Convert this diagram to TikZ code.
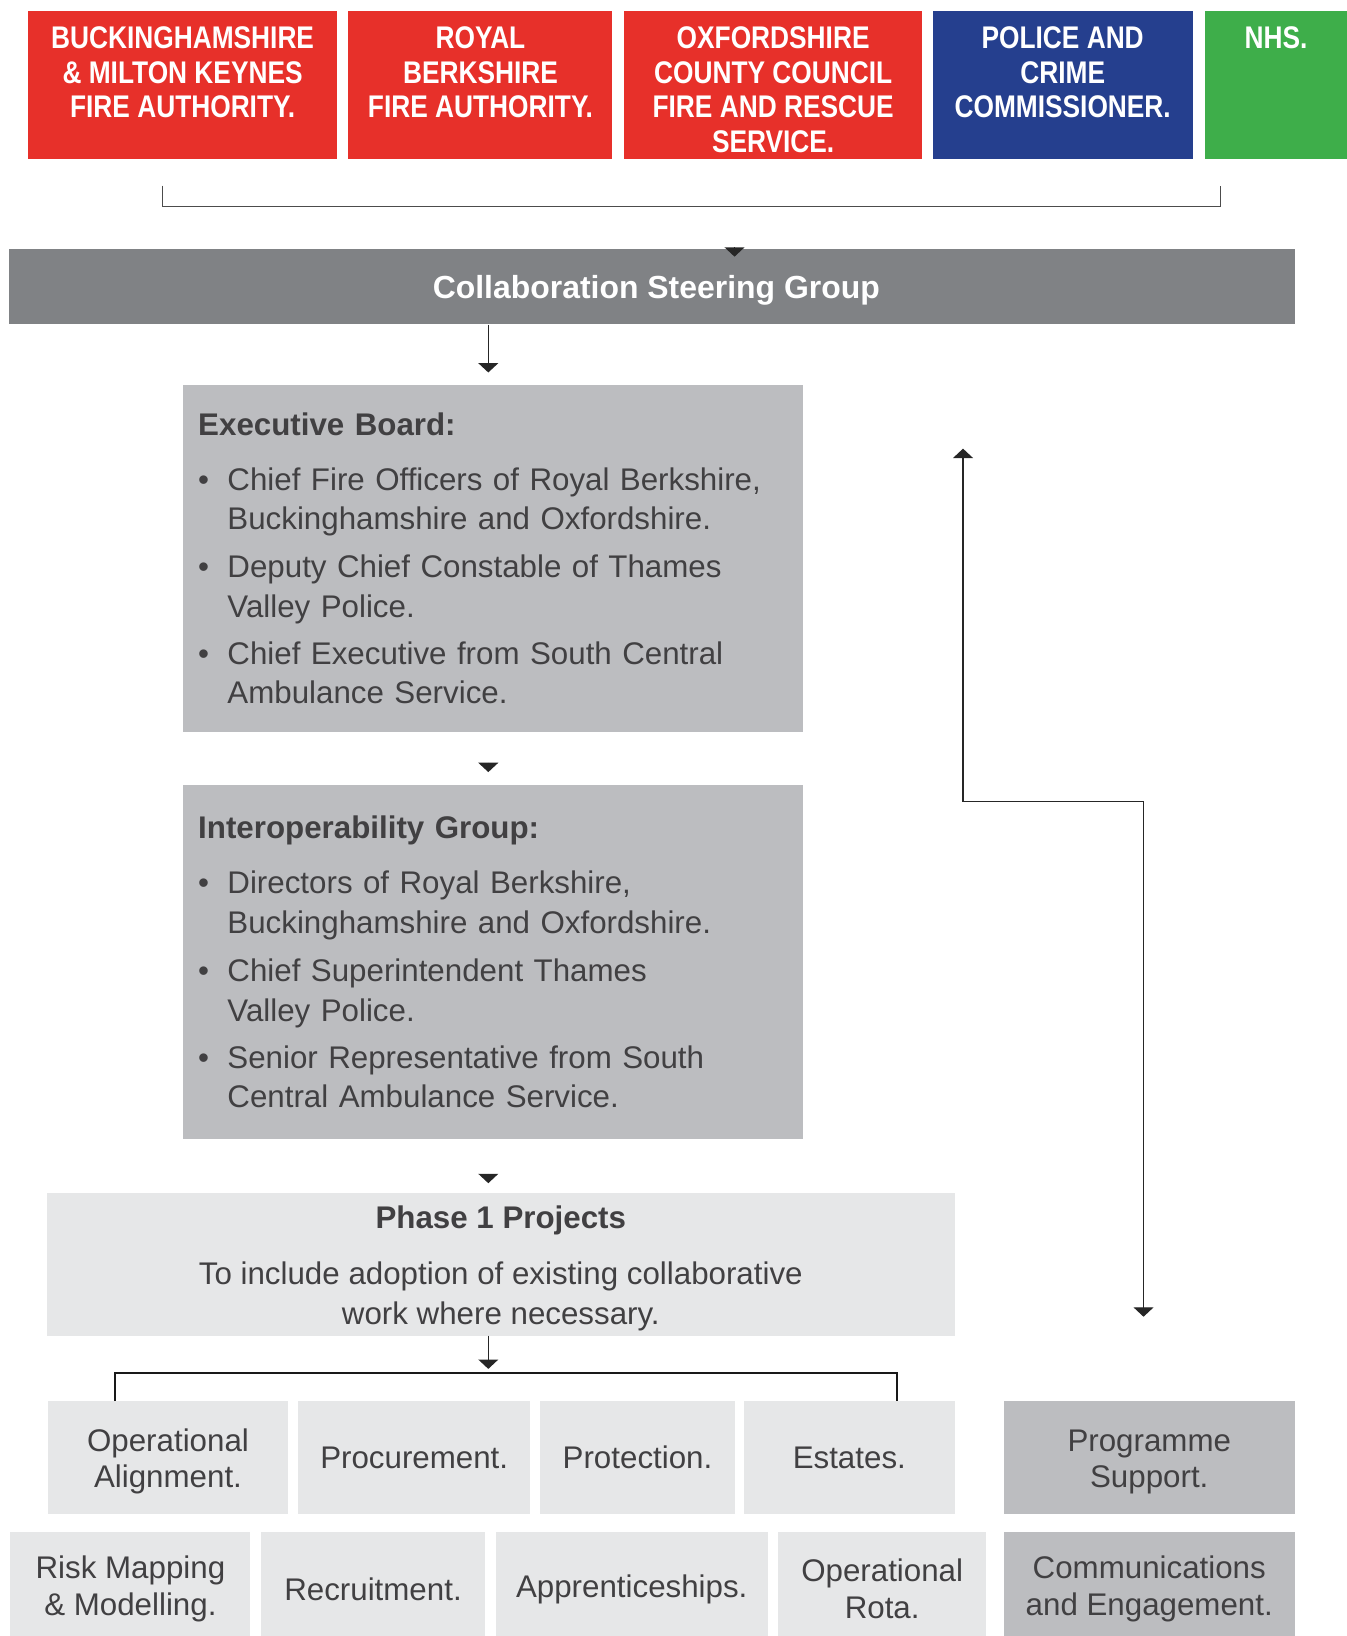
\documentclass[tikz,border=0pt]{standalone}
\usepackage{fontspec}
\setmainfont{Liberation Sans}
\newfontfamily\narrowsans[FakeStretch=0.84]{Liberation Sans}
\usetikzlibrary{arrows.meta}

\definecolor{firered}{HTML}{E7302A}
\definecolor{policeblue}{HTML}{253F8E}
\definecolor{nhsgreen}{HTML}{3EAE4A}
\definecolor{bargrey}{HTML}{808285}
\definecolor{midgrey}{HTML}{BCBDC0}
\definecolor{lightgrey}{HTML}{E6E7E8}
\definecolor{txt}{HTML}{414042}

\newcommand{\toptext}[2]{\parbox[c][141pt][t]{#1pt}{\centering\vspace*{15pt}#2}}
\newcommand{\bul}{\makebox[28pt][l]{\textbullet}}
\newcommand{\ind}{\hspace*{28pt}}
\newcommand{\tall}{\rule{0pt}{29pt}}

\begin{document}
\begin{tikzpicture}[x=1pt, y=-1pt,
    >={Triangle[width=19pt,length=9pt]},
    topbox/.style={fill=#1, inner sep=0pt, text=white,
        font=\narrowsans\bfseries\fontsize{30}{33}\selectfont},
    greybox/.style={fill=midgrey, inner xsep=15pt, inner ysep=0pt, text=txt,
        align=left, font=\fontsize{30}{38}\selectfont},
    projbox/.style={fill=lightgrey, inner sep=0pt, text=txt, align=center,
        font=\fontsize{30}{35}\selectfont},
    conn/.style={draw=black!85, line width=1.4pt},
    bracket/.style={draw=black!90, line width=2pt}]
    \useasboundingbox (0,0) rectangle (1291,1568);

    % partner organisations
    \node[topbox=firered] (buck) at (175,81.5)
        {\toptext{296}{BUCKINGHAMSHIRE\\ \& MILTON KEYNES\\ FIRE AUTHORITY.}};
    \node[topbox=firered] (rbfa) at (460.5,81.5)
        {\toptext{253}{ROYAL\\ BERKSHIRE\\ FIRE AUTHORITY.}};
    \node[topbox=firered] (oxon) at (741,81.5)
        {\toptext{286}{OXFORDSHIRE\\ COUNTY COUNCIL\\ FIRE AND RESCUE\\ SERVICE.}};
    \node[topbox=policeblue] (pcc) at (1018.5,81.5)
        {\toptext{249}{POLICE AND\\ CRIME\\ COMMISSIONER.}};
    \node[topbox=nhsgreen] (nhs) at (1223,81.5)
        {\toptext{136}{NHS.}};

    \coordinate (brl) at (156,178);
    \coordinate (brr) at (1170,178);
    \draw[draw=black!70, line width=1.2pt] (brl) -- ++(0,20) -| (brr);

    \node[fill=bargrey, minimum width=1232pt, minimum height=72pt, inner sep=0pt,
        text=white, text depth=0pt, font=\bfseries\fontsize{30.6}{36}\selectfont]
        (collab) at (625,275) {\hspace{8pt}Collaboration Steering Group};
    \coordinate (c-in) at (704,237);
    \draw[conn,->] (c-in) -- ++(0,9);

    % boards
    \coordinate (a1) at (468,357);
    \draw[conn,->] (a1 |- collab.south) -- (a1);

    \node[greybox, minimum width=595pt, minimum height=333pt, text width=565pt]
        (exec) at (472.5,535.5) {%
        \textbf{Executive Board:}\\[14pt]
        \bul Chief Fire Officers of Royal Berkshire,\\
        \ind Buckinghamshire and Oxfordshire.\\[8pt]
        \bul Deputy Chief Constable of Thames\\
        \ind Valley Police.\\[7pt]
        \bul Chief Executive from South Central\\
        \ind Ambulance Service.};

    \coordinate (a2) at (468,731);
    \draw[conn,->] (a2) -- ++(0,9);

    \node[greybox, minimum width=595pt, minimum height=340pt, text width=565pt]
        (interop) at (472.5,922) {%
        \textbf{Interoperability Group:}\\[15pt]
        \bul Directors of Royal Berkshire,\\
        \ind Buckinghamshire and Oxfordshire.\\[8pt]
        \bul Chief Superintendent Thames\\
        \ind Valley Police.\\[7pt]
        \bul Senior Representative from South\\
        \ind Central Ambulance Service.};

    \coordinate (a3) at (468,1125);
    \draw[conn,->] (a3) -- ++(0,9);

    \node[projbox, minimum width=870pt, minimum height=137pt, font=\fontsize{30}{38}\selectfont]
        (phase) at (480,1211.5) {%
        \rule{0pt}{30pt}\textbf{Phase 1 Projects}\\[16pt]
        To include adoption of existing collaborative\\
        work where necessary.};

    \coordinate (a4) at (468,1312);
    \draw[conn,->] (a4 |- phase.south) -- (a4);

    % projects
    \foreach \nm/\cx/\cy/\w/\h/\col/\lbl in {
        opal/161/1397/230/108/lightgrey/{\tall Operational\\Alignment.},
        proc/397/1397/222/108/lightgrey/{Procurement.},
        prot/611/1397/186/108/lightgrey/{Protection.},
        est/814/1397/202/108/lightgrey/{Estates.},
        prog/1101.5/1397/279/108/midgrey/{\tall Programme\\Support.},
        risk/125/1523/230/110/lightgrey/{Risk Mapping\\\& Modelling.},
        recr/357.5/1523/215/110/lightgrey/{Recruitment.},
        appr/605.5/1523/261/110/lightgrey/{Apprenticeships.},
        rota/845.5/1523/199/110/lightgrey/{Operational\\Rota.},
        comm/1101.5/1523/279/110/midgrey/{Communications\\and Engagement.}} {
        \node[projbox, fill=\col, minimum width=\w pt, minimum height=\h pt]
            (\nm) at (\cx,\cy) {\lbl};
    }

    \coordinate (pbl) at (110,1316);
    \coordinate (pbr) at (860,1316);
    \draw[bracket] (pbl |- opal.north) -- (pbl) -- (pbr) -- (pbr |- est.north);

    % support link
    \coordinate (up-end) at (923,430);
    \coordinate (knee) at (1096,768);
    \coordinate (down-end) at (1096,1262);
    \draw[conn, line width=1.2pt, <->] (up-end) |- (knee) -- (down-end);
\end{tikzpicture}
\end{document}
